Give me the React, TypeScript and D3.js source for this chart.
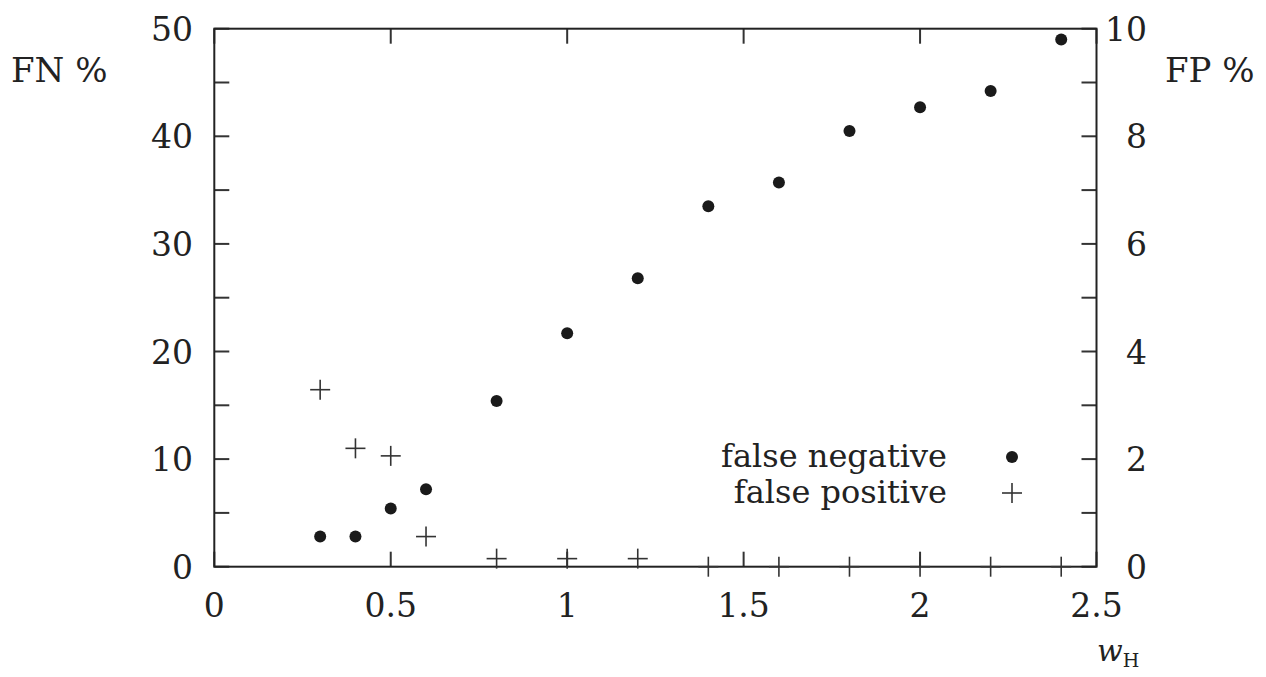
import React from "react";
import * as d3 from "d3";

const wValues = [0.3, 0.4, 0.5, 0.6, 0.8, 1.0, 1.2, 1.4, 1.6, 1.8, 2.0, 2.2, 2.4];
const falseNegative = [2.8, 2.8, 5.4, 7.2, 15.4, 21.7, 26.8, 33.5, 35.7, 40.5, 42.7, 44.2, 49.0];
const falsePositive = [3.29, 2.2, 2.06, 0.56, 0.15, 0.15, 0.15, 0, 0, 0, 0, 0, 0];
const xTicks = [0, 0.5, 1, 1.5, 2, 2.5];
const xTickLabels = ["0", "0.5", "1", "1.5", "2", "2.5"];
const leftTicks = [0, 5, 10, 15, 20, 25, 30, 35, 40, 45, 50];
const leftLabels = [0, 10, 20, 30, 40, 50];
const rightTicks = [0, 1, 2, 3, 4, 5, 6, 7, 8, 9, 10];
const rightLabels = [0, 2, 4, 6, 8, 10];
const legendLabels = ["false negative", "false positive"];

const W = 1266;
const H = 677;
const L = 214.3, R = 1096.5, T = 28.7, B = 566.7;
const FONT = "'DejaVu Serif'";
const FS = 33;
const TICK = 15;
const INK = "#222";

export default function App() {
  const x = d3.scaleLinear().domain([0, 2.5]).range([L, R]);
  const yL = d3.scaleLinear().domain([0, 50]).range([B, T]);
  const yR = d3.scaleLinear().domain([0, 10]).range([B, T]);
  const plus = (cx: number, cy: number, s: number, key: string) => (
    <g key={key} stroke="#333" strokeWidth={1.6}>
      <line x1={cx - s} x2={cx + s} y1={cy} y2={cy} />
      <line x1={cx} x2={cx} y1={cy - s} y2={cy + s} />
    </g>
  );
  return (
    <svg width={W} height={H} style={{ position: "absolute", left: 0, top: 0, background: "#fff", fontFamily: FONT }}>
      <rect x={0} y={0} width={W} height={H} fill="#fff" />
      <g stroke="#333" strokeWidth={2}>
        {xTicks.map((t) => (
          <g key={"xt" + t}>
            <line x1={x(t)} x2={x(t)} y1={B} y2={B - TICK} />
            <line x1={x(t)} x2={x(t)} y1={T} y2={T + TICK} />
          </g>
        ))}
        {leftTicks.map((t) => (
          <line key={"lt" + t} x1={L} x2={L + TICK} y1={yL(t)} y2={yL(t)} />
        ))}
        {rightTicks.map((t) => (
          <line key={"rt" + t} x1={R} x2={R - TICK} y1={yR(t)} y2={yR(t)} />
        ))}
      </g>
      <rect x={L} y={T} width={R - L} height={B - T} fill="none" stroke={INK} strokeWidth={2} />
      <g fontSize={FS} fill="#222" style={{ fontFamily: FONT }}>
        {xTicks.map((t, i) => (
          <text key={"xl" + t} x={x(t)} y={B + 50} textAnchor="middle">{xTickLabels[i]}</text>
        ))}
        {leftLabels.map((t) => (
          <text key={"ll" + t} x={193} y={yL(t) + 12} textAnchor="end">{t}</text>
        ))}
        {rightLabels.map((t) => (
          <text key={"rl" + t} x={1147} y={yR(t) + 12} textAnchor="end">{t}</text>
        ))}
        <text x={11} y={82} fontSize={34}>FN %</text>
        <text x={1165} y={82} fontSize={34}>FP %</text>
        <text x={1097} y={661} fontSize={30}>
          <tspan fontStyle="italic">w</tspan>
          <tspan fontSize={19} dy={6}>H</tspan>
        </text>
      </g>
      {wValues.map((w, i) => (
        <circle key={"fn" + i} cx={x(w)} cy={yL(falseNegative[i])} r={6} fill="#1a1a1a" />
      ))}
      {wValues.map((w, i) => plus(x(w), yR(falsePositive[i]), 10, "fp" + i))}
      <g fontSize={32} fill="#222" style={{ fontFamily: FONT }}>
        <text x={947} y={467} textAnchor="end">{legendLabels[0]}</text>
        <text x={947} y={503} textAnchor="end">{legendLabels[1]}</text>
      </g>
      <circle cx={1012} cy={457} r={6} fill="#1a1a1a" />
      {plus(1012, 493, 10, "legplus")}
    </svg>
  );
}
